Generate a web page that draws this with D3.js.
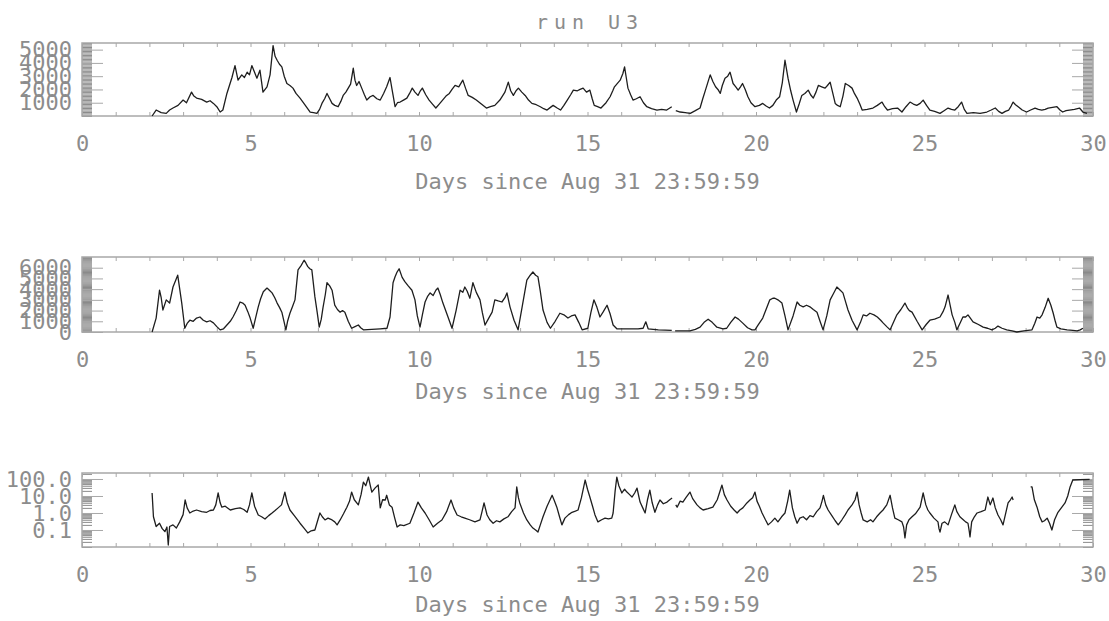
<!DOCTYPE html>
<html>
<head>
<meta charset="utf-8">
<script src="https://cdn.jsdelivr.net/npm/d3@7"></script>
<style>
    body { margin: 0; background: #fff; }
    .tick-lbl text, .ttl { font-family: "DejaVu Sans Mono", monospace; fill: #8c8c8c; }
</style>
</head>
<body>
<div id="chart"></div>
<script>

// ---- data ----
const dayTicks = [0, 5, 10, 15, 20, 25, 30];
const xTitle = "Days since Aug 31 23:59:59";
const plotTitle = "run U3";

const topTicks = [1000, 2000, 3000, 4000, 5000];
const midTicks = [0, 1000, 2000, 3000, 4000, 5000, 6000];
const lowTicks = [0.1, 1, 10, 100];

// panel 1 : [day, value]
const seriesTop = [[2.08,0],[2.2,450],[2.35,250],[2.5,200],[2.6,450],[2.7,600],[2.85,800],[3.0,1200],[3.1,1000],[3.25,1800],[3.32,1500],[3.4,1350],[3.55,1250],[3.7,1050],[3.8,1150],[3.9,950],[4.0,700],[4.1,300],[4.18,450],[4.3,1700],[4.45,2900],[4.54,3800],[4.63,2700],[4.74,3100],[4.82,2900],[4.9,3300],[4.97,3100],[5.04,3800],[5.12,3300],[5.19,2850],[5.28,3450],[5.37,1800],[5.49,2200],[5.58,3100],[5.67,5300],[5.73,4500],[5.79,4200],[5.86,3900],[5.93,3700],[6.0,3000],[6.08,2450],[6.17,2300],[6.26,2100],[6.35,1700],[6.47,1350],[6.6,900],[6.77,300],[6.87,250],[6.97,200],[7.05,500],[7.12,950],[7.2,1300],[7.27,1700],[7.35,1300],[7.42,950],[7.5,800],[7.6,700],[7.68,1100],[7.75,1550],[7.83,1800],[7.9,2100],[7.97,2400],[8.05,3600],[8.1,2700],[8.15,2300],[8.22,2600],[8.3,2100],[8.38,1600],[8.45,1200],[8.55,1450],[8.64,1550],[8.75,1300],[8.85,1200],[8.95,1700],[9.04,2200],[9.14,2900],[9.2,2000],[9.29,700],[9.36,1000],[9.44,1050],[9.54,1200],[9.64,1350],[9.72,1700],[9.8,2100],[9.88,1800],[9.97,1550],[10.04,1900],[10.1,2100],[10.2,1600],[10.3,1200],[10.4,900],[10.5,600],[10.6,900],[10.7,1200],[10.8,1500],[10.9,1700],[10.98,2000],[11.07,2300],[11.18,2200],[11.3,2700],[11.38,2100],[11.46,1550],[11.58,1400],[11.7,1200],[11.85,900],[12.0,600],[12.12,700],[12.25,800],[12.4,1200],[12.55,1800],[12.65,2550],[12.72,1900],[12.8,1550],[12.88,1900],[12.95,2100],[13.05,1800],[13.15,1550],[13.25,1200],[13.35,950],[13.48,850],[13.6,700],[13.7,550],[13.8,450],[13.9,650],[13.98,800],[14.1,600],[14.2,450],[14.3,800],[14.4,1200],[14.5,1600],[14.58,1950],[14.7,1900],[14.78,2000],[14.87,2100],[14.97,1800],[15.07,1950],[15.14,1300],[15.2,800],[15.3,700],[15.4,600],[15.55,1000],[15.67,1450],[15.75,1900],[15.8,2200],[15.9,2500],[15.97,2700],[16.05,3200],[16.1,3700],[16.15,2900],[16.2,2100],[16.28,1600],[16.35,1200],[16.45,1300],[16.56,1450],[16.66,1000],[16.76,700],[16.9,550],[17.06,450],[17.2,500],[17.35,450],[17.5,700],[17.56,null],[17.62,400],[17.75,300],[17.9,250],[18.05,200],[18.2,400],[18.34,600],[18.42,1300],[18.5,1950],[18.64,3100],[18.72,2600],[18.8,2200],[18.87,2000],[18.94,1700],[19.0,2300],[19.08,2850],[19.16,3000],[19.23,3300],[19.32,2450],[19.4,2200],[19.47,1950],[19.54,2200],[19.6,2450],[19.68,2000],[19.76,1450],[19.85,1000],[19.97,700],[20.1,800],[20.2,950],[20.3,750],[20.4,600],[20.5,800],[20.6,1200],[20.7,1450],[20.78,2500],[20.86,4200],[20.95,2850],[21.03,1900],[21.1,1200],[21.2,300],[21.28,900],[21.36,1550],[21.45,1700],[21.55,1950],[21.62,1600],[21.7,1350],[21.78,1800],[21.85,2300],[21.95,2200],[22.05,2100],[22.12,2300],[22.2,2550],[22.28,1700],[22.35,950],[22.42,800],[22.5,700],[22.58,1500],[22.65,2450],[22.75,2300],[22.85,2100],[22.92,1700],[23.0,1350],[23.08,900],[23.15,450],[23.3,500],[23.47,600],[23.6,800],[23.74,1050],[23.82,700],[23.9,450],[24.05,550],[24.2,600],[24.33,300],[24.45,700],[24.57,1050],[24.67,900],[24.77,800],[24.87,950],[24.96,1200],[25.06,800],[25.16,450],[25.3,350],[25.46,200],[25.58,400],[25.7,600],[25.8,500],[25.9,450],[26.0,700],[26.1,1050],[26.18,500],[26.26,200],[26.45,250],[26.65,200],[26.85,300],[26.98,450],[27.1,600],[27.2,350],[27.3,200],[27.4,350],[27.5,450],[27.57,750],[27.63,1050],[27.7,850],[27.78,700],[27.9,450],[28.03,300],[28.15,450],[28.28,600],[28.38,500],[28.48,450],[28.58,500],[28.67,600],[28.8,650],[28.93,700],[29.02,450],[29.1,300],[29.2,400],[29.3,450],[29.45,500],[29.6,600],[29.7,300],[29.82,200]];

// panel 2 : [day, value]
const seriesMid = [[2.08,0],[2.2,1300],[2.3,3900],[2.35,3200],[2.4,2050],[2.5,3000],[2.6,2700],[2.7,4200],[2.84,5300],[2.9,4000],[2.96,2700],[3.05,350],[3.12,800],[3.2,1100],[3.3,1000],[3.4,1300],[3.5,1400],[3.6,1100],[3.7,950],[3.8,1050],[3.9,850],[4.0,500],[4.1,200],[4.2,300],[4.3,650],[4.4,1000],[4.48,1400],[4.58,2000],[4.69,2800],[4.77,2700],[4.84,2500],[4.92,1900],[4.99,1300],[5.08,350],[5.15,1300],[5.23,2350],[5.3,3100],[5.38,3750],[5.49,4100],[5.56,3900],[5.64,3650],[5.72,3200],[5.79,2700],[5.86,2300],[5.93,1850],[6.0,900],[6.05,200],[6.1,1000],[6.17,1750],[6.25,2400],[6.32,3000],[6.41,5800],[6.5,6200],[6.59,6700],[6.65,6400],[6.7,6100],[6.76,5900],[6.82,5800],[6.91,3300],[6.98,1800],[7.04,450],[7.1,1200],[7.15,2250],[7.22,3500],[7.27,4600],[7.35,4300],[7.42,3900],[7.5,2500],[7.58,2100],[7.66,1850],[7.73,2000],[7.8,1850],[7.9,1000],[8.0,350],[8.1,500],[8.2,650],[8.27,400],[8.35,200],[8.6,250],[8.85,300],[9.05,350],[9.14,1400],[9.23,4600],[9.29,5150],[9.35,5600],[9.41,5900],[9.5,5100],[9.58,4700],[9.68,4300],[9.79,3900],[9.88,3000],[9.95,1500],[10.03,450],[10.1,1600],[10.18,2800],[10.25,3300],[10.33,3650],[10.42,3400],[10.5,3900],[10.56,4100],[10.63,3500],[10.71,2700],[10.85,1500],[10.98,350],[11.1,2000],[11.22,3900],[11.3,3700],[11.36,4200],[11.43,3800],[11.51,3150],[11.6,4600],[11.7,3700],[11.81,3000],[11.88,1800],[11.96,650],[12.07,1300],[12.17,1850],[12.25,3000],[12.35,2900],[12.46,2800],[12.55,3200],[12.61,3650],[12.7,2350],[12.82,1100],[12.94,200],[13.07,2500],[13.2,4850],[13.3,5300],[13.38,5600],[13.46,5300],[13.53,5150],[13.6,3800],[13.68,2050],[13.8,900],[13.9,350],[14.04,1000],[14.18,1750],[14.3,1600],[14.42,1300],[14.52,1500],[14.63,1600],[14.74,900],[14.84,200],[15.01,350],[15.1,1800],[15.19,3000],[15.28,2300],[15.37,1400],[15.47,1900],[15.58,2500],[15.67,1700],[15.76,650],[15.87,300],[16.2,300],[16.5,300],[16.65,350],[16.73,950],[16.8,300],[17.1,200],[17.5,150],[17.54,null],[17.6,100],[18.04,100],[18.2,250],[18.34,450],[18.46,900],[18.58,1200],[18.7,900],[18.84,450],[19.02,300],[19.13,350],[19.25,900],[19.38,1400],[19.48,1200],[19.6,850],[19.75,400],[19.88,200],[19.97,200],[20.06,650],[20.2,1300],[20.33,2350],[20.41,3000],[20.5,3150],[20.56,3150],[20.65,3000],[20.77,2700],[20.86,1500],[20.95,200],[21.1,1500],[21.22,2800],[21.3,2500],[21.4,2350],[21.5,2500],[21.6,2350],[21.7,2100],[21.81,1850],[21.9,1000],[21.99,200],[22.1,1500],[22.2,3000],[22.3,3600],[22.4,4200],[22.5,3900],[22.58,3650],[22.65,2900],[22.73,2050],[22.85,1100],[23.0,200],[23.1,900],[23.18,1600],[23.28,1500],[23.38,1750],[23.5,1600],[23.6,1400],[23.7,1100],[23.77,850],[23.88,500],[23.98,200],[24.08,900],[24.18,1600],[24.3,2100],[24.42,2700],[24.5,2200],[24.55,2000],[24.63,1850],[24.78,1000],[24.93,200],[25.05,700],[25.16,1100],[25.3,1200],[25.46,1400],[25.55,1900],[25.61,2350],[25.7,3450],[25.76,2500],[25.82,1600],[25.9,900],[25.96,200],[26.05,800],[26.14,1400],[26.22,1400],[26.29,1600],[26.36,1300],[26.44,950],[26.6,700],[26.74,450],[26.87,350],[27.0,200],[27.1,350],[27.18,550],[27.3,350],[27.44,200],[27.6,100],[27.74,0],[27.95,100],[28.19,200],[28.27,800],[28.34,1400],[28.42,1300],[28.49,1600],[28.58,2300],[28.67,3150],[28.75,2500],[28.82,1750],[28.88,1000],[28.93,450],[29.05,300],[29.23,200],[29.4,150],[29.53,100],[29.62,200],[29.7,350]];

// panel 3 (log) : [day, value]
const seriesLow = [[2.08,15],[2.12,0.6],[2.2,0.16],[2.3,0.25],[2.38,0.12],[2.46,0.08],[2.52,0.15],[2.56,0.013],[2.6,0.16],[2.7,0.2],[2.8,0.13],[2.9,0.3],[3.0,0.8],[3.06,5.8],[3.12,2.0],[3.2,1.0],[3.3,1.3],[3.4,1.5],[3.55,1.2],[3.7,1.1],[3.8,1.4],[3.9,1.5],[3.97,3],[4.04,15],[4.1,4],[4.15,2.2],[4.25,2.5],[4.4,1.5],[4.55,1.8],[4.69,2.0],[4.8,1.6],[4.9,1.1],[4.97,3],[5.04,15],[5.12,2.5],[5.23,0.76],[5.33,0.6],[5.43,0.44],[5.54,0.7],[5.64,1.0],[5.73,1.4],[5.82,2.0],[5.92,3],[6.02,17],[6.09,4],[6.17,1.5],[6.3,0.7],[6.47,0.25],[6.6,0.12],[6.7,0.067],[6.8,0.09],[6.91,0.1],[7.0,0.4],[7.06,1.0],[7.13,0.6],[7.21,0.39],[7.3,0.5],[7.42,0.39],[7.5,0.3],[7.57,0.2],[7.66,0.39],[7.76,0.9],[7.86,2.2],[7.94,5],[8.0,17],[8.08,6],[8.2,3],[8.28,12],[8.35,66],[8.42,40],[8.5,130],[8.55,45],[8.6,17],[8.7,30],[8.79,44],[8.85,2],[8.92,6],[9.0,5.8],[9.04,11],[9.12,3],[9.2,2.2],[9.28,0.5],[9.35,0.15],[9.44,0.2],[9.55,0.18],[9.73,0.25],[9.85,1.0],[9.97,4.4],[10.07,2.0],[10.18,1.0],[10.3,0.4],[10.42,0.15],[10.55,0.25],[10.68,0.39],[10.82,1.2],[10.95,5.8],[11.03,2.0],[11.13,0.76],[11.25,0.6],[11.36,0.5],[11.5,0.4],[11.66,0.3],[11.81,0.39],[11.87,1.2],[11.93,3.9],[12.02,0.76],[12.1,0.4],[12.2,0.25],[12.3,0.35],[12.4,0.3],[12.52,0.45],[12.64,0.6],[12.75,1.2],[12.85,2.0],[12.9,34],[12.95,8],[12.99,3.9],[13.1,1.0],[13.2,0.39],[13.3,0.2],[13.38,0.13],[13.46,0.1],[13.53,0.076],[13.6,0.2],[13.68,0.6],[13.8,2.5],[13.95,11],[14.02,5],[14.09,2.2],[14.17,0.6],[14.24,0.2],[14.33,0.5],[14.44,0.8],[14.54,1.1],[14.64,1.3],[14.72,1.5],[14.82,8],[14.93,87],[15.0,25],[15.07,8.7],[15.15,2.5],[15.22,0.8],[15.31,0.3],[15.42,0.4],[15.52,0.5],[15.62,0.45],[15.72,0.5],[15.76,1.0],[15.82,20],[15.87,130],[15.93,40],[16.02,15],[16.1,25],[16.17,17],[16.25,12],[16.32,8.7],[16.4,15],[16.47,29],[16.52,10],[16.56,4.4],[16.64,2],[16.71,1.0],[16.78,6],[16.85,22],[16.92,4],[17.0,1.1],[17.08,3],[17.15,5.8],[17.25,3.5],[17.36,4.4],[17.44,6],[17.51,7.6],[17.56,null],[17.62,3],[17.66,2.2],[17.75,5],[17.83,4.4],[17.92,8],[18.04,17],[18.12,7],[18.25,3],[18.34,2.0],[18.43,1.5],[18.58,1.8],[18.72,2.2],[18.85,6],[18.99,44],[19.06,12],[19.14,5.8],[19.25,2.5],[19.35,1.5],[19.44,1.0],[19.52,1.5],[19.61,2.0],[19.73,3.9],[19.82,5.8],[19.9,8],[19.97,17],[20.03,5],[20.1,2.5],[20.18,1.0],[20.28,0.4],[20.36,0.2],[20.46,0.3],[20.56,0.5],[20.65,0.3],[20.76,0.6],[20.86,1.0],[20.94,5],[21.0,22],[21.08,2],[21.15,0.6],[21.22,0.25],[21.3,0.5],[21.4,0.6],[21.5,0.4],[21.6,0.7],[21.7,0.6],[21.8,1.2],[21.9,2.0],[21.96,5],[22.0,11],[22.07,3],[22.14,1.5],[22.25,0.7],[22.35,0.35],[22.44,0.2],[22.55,0.4],[22.65,0.8],[22.73,1.5],[22.85,3],[22.94,6],[23.0,17],[23.06,3],[23.12,1.0],[23.18,0.39],[23.3,0.3],[23.4,0.4],[23.47,0.3],[23.58,0.6],[23.68,1.0],[23.77,1.5],[23.88,3],[23.98,11],[24.05,2],[24.12,0.5],[24.22,0.4],[24.33,0.3],[24.38,0.15],[24.42,0.034],[24.47,0.2],[24.54,0.4],[24.63,0.6],[24.73,0.9],[24.87,2.2],[24.96,15],[25.04,3],[25.1,1.5],[25.16,1.0],[25.28,0.5],[25.4,0.3],[25.43,0.12],[25.46,0.076],[25.52,0.25],[25.6,0.3],[25.7,0.2],[25.8,0.8],[25.9,3],[25.96,1.2],[26.05,0.6],[26.15,0.4],[26.22,0.3],[26.29,0.25],[26.33,0.08],[26.35,0.039],[26.4,0.3],[26.48,0.6],[26.56,1.0],[26.68,1.2],[26.8,1.5],[26.88,8.7],[26.95,3],[27.03,7.6],[27.1,2],[27.18,0.76],[27.26,0.4],[27.33,0.2],[27.4,0.8],[27.48,3.9],[27.55,6],[27.6,8.7],[27.63,5.8],[27.66,null],[28.15,34],[28.19,34],[28.26,6],[28.34,2.2],[28.42,0.6],[28.49,0.3],[28.56,0.35],[28.64,0.5],[28.71,0.25],[28.78,0.1],[28.86,0.4],[28.96,1.1],[29.06,2.0],[29.17,3.9],[29.25,10],[29.32,34],[29.4,87],[29.6,90],[29.9,95]];


class PanelVis {

    constructor(svg, top, height, data, opts) {
        this.svg = svg;
        this.top = top;
        this.height = height;
        this.data = data;
        this.opts = opts;
        this.initVis();
    }

    initVis() {
        let vis = this;

        vis.left = 82;
        vis.width = 1093 - 82;

        vis.g = vis.svg.append("g")
            .attr("transform", `translate(${vis.left},${vis.top})`);

        vis.x = d3.scaleLinear().domain([0, 30]).range([0, vis.width]);

        if (vis.opts.log) {
            vis.y = d3.scaleLog().domain(vis.opts.domain).range([vis.height, 0]);
        } else {
            vis.y = d3.scaleLinear().domain(vis.opts.domain).range([vis.height, 0]);
        }

        this.drawAxes();
        this.updateVis();
    }

    drawAxes() {
        let vis = this;

        // minor y ticks, both sides (dense, they make the grey band)
        let minor = vis.opts.minor;
        vis.g.append("g")
            .attr("class", "y-minor")
            .call(d3.axisLeft(vis.y).tickValues(minor).tickSize(-10).tickFormat(""));
        vis.g.append("g")
            .attr("class", "y-minor")
            .attr("transform", `translate(${vis.width},0)`)
            .call(d3.axisRight(vis.y).tickValues(minor).tickSize(-10).tickFormat(""));

        // major y ticks + labels
        vis.g.append("g")
            .attr("class", "y-major tick-lbl")
            .call(d3.axisLeft(vis.y).tickValues(vis.opts.major).tickSize(-21).tickPadding(10)
                .tickFormat(vis.opts.fmt));
        vis.g.append("g")
            .attr("class", "y-major")
            .attr("transform", `translate(${vis.width},0)`)
            .call(d3.axisRight(vis.y).tickValues(vis.opts.major).tickSize(-21).tickFormat(""));

        // x ticks every day, top and bottom
        let days = d3.range(0, 31);
        vis.g.append("g")
            .attr("class", "x-minor")
            .attr("transform", `translate(0,${vis.height})`)
            .call(d3.axisBottom(vis.x).tickValues(days).tickSize(-4).tickFormat(""));
        vis.g.append("g")
            .attr("class", "x-minor")
            .call(d3.axisTop(vis.x).tickValues(days).tickSize(-4).tickFormat(""));

        // x labels
        vis.g.append("g")
            .attr("class", "x-lbl tick-lbl")
            .attr("transform", `translate(0,${vis.height})`)
            .call(d3.axisBottom(vis.x).tickValues(dayTicks).tickSize(0).tickPadding(19)
                .tickFormat(d3.format("d")));

        vis.g.selectAll(".domain").remove();

        vis.g.selectAll(".y-minor line").attr("stroke", "#8a8a8a").attr("stroke-width", 1);
        vis.g.selectAll(".y-major line, .x-minor line").attr("stroke", "#a8a8a8").attr("stroke-width", 1);

        vis.g.selectAll(".tick-lbl text")
            .attr("font-family", null)
            .attr("fill", null)
            .style("font-size", "22px");
        vis.g.selectAll(".tick-lbl").attr("font-family", null).attr("font-size", null);

        // frame
        vis.g.append("rect")
            .attr("width", vis.width)
            .attr("height", vis.height)
            .attr("fill", "none")
            .attr("stroke", "#a8a8a8")
            .attr("stroke-width", 1.5);

        // x title
        vis.g.append("text")
            .attr("class", "ttl")
            .attr("x", vis.width / 2)
            .attr("y", vis.height + vis.opts.titleGap)
            .attr("text-anchor", "middle")
            .style("font-size", "22px")
            .text(xTitle);
    }

    updateVis() {
        let vis = this;

        let line = d3.line()
            .defined(d => d[1] !== null)
            .x(d => vis.x(d[0]))
            .y(d => vis.y(d[1]));

        vis.g.append("path")
            .datum(vis.data)
            .attr("fill", "none")
            .attr("stroke", "#1e1e1e")
            .attr("stroke-width", 1.3)
            .attr("stroke-linejoin", "round")
            .attr("d", line);
    }
}


// drawing area
let svg = d3.select("#chart").append("svg")
    .attr("width", 1109)
    .attr("height", 621)
    .style("background", "#fff");

svg.append("text")
    .attr("class", "ttl")
    .attr("x", 590)
    .attr("y", 29)
    .attr("text-anchor", "middle")
    .style("font-size", "20px")
    .style("letter-spacing", "6px")
    .text(plotTitle);

let logMinor = [];
[0.01, 0.1, 1, 10, 100].forEach(e => {
    for (let k = 1; k <= 9; k++) {
        if (k * e <= 225) logMinor.push(k * e);
    }
});

new PanelVis(svg, 43, 73, seriesTop, {
    domain: [0, 5500], major: topTicks, minor: d3.range(0, 5501, 100), fmt: d3.format("d"), titleGap: 73
});
new PanelVis(svg, 257, 75, seriesMid, {
    domain: [0, 7000], major: midTicks, minor: d3.range(0, 7001, 100), fmt: d3.format("d"), titleGap: 67
});
new PanelVis(svg, 473, 74, seriesLow, {
    log: true, domain: [0.01, 225], major: lowTicks, minor: logMinor, fmt: d3.format(".1f"), titleGap: 65
});

</script>
</body>
</html>
